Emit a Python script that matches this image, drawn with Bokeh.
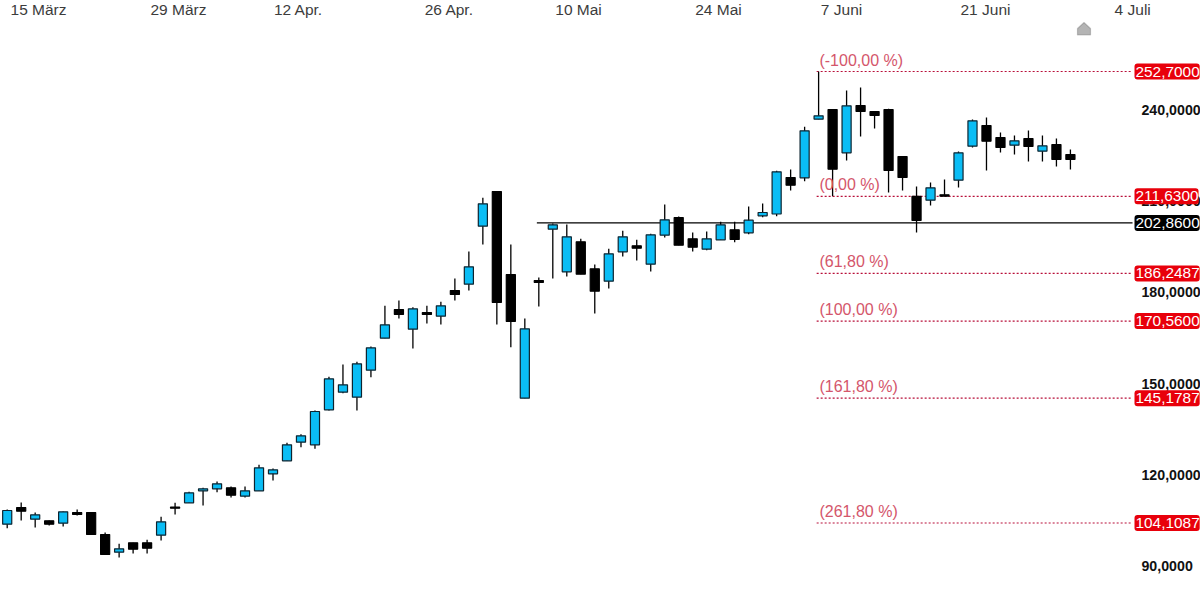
from bokeh.plotting import figure
from bokeh.models import Range1d, FixedTicker, Label, PolyAnnotation, ColumnDataSource
from bokeh.core.properties import value
from bokeh.embed import file_html
from bokeh.resources import INLINE

opens = [103.72,109.21,105.36,104.83,104.05,107.57,107.57,100.33,94.50,97.60,97.60,100.10,109.37,110.76,114.71,115.37,115.70,112.93,114.71,120.31,
         124.58,130.70,129.85,141.37,147.16,145.51,154.40,164.93,174.37,167.89,173.39,172.17,180.63,182.70,201.79,213.21,185.89,145.18,183.92,200.80,
         186.78,196.65,187.77,183.69,193.36,195.34,189.28,198.83,204.65,197.64,194.22,197.32,200.60,199.62,205.21,205.80,217.82,217.72,237.00,240.20,
         225.94,241.51,239.54,240.20,224.73,211.63,210.35,212.12,216.93,228.12,234.93,230.98,228.45,230.65,226.47,228.68,225.39]
highs = [108.55,110.86,107.57,104.93,107.89,108.55,107.57,100.99,97.27,97.60,98.58,106.15,110.76,114.38,115.70,117.77,116.12,116.12,123.27,122.05,
         130.51,133.34,141.14,152.23,156.27,157.16,162.20,175.59,177.34,175.13,175.59,176.91,184.58,193.46,211.14,213.21,195.77,171.41,184.91,202.68,
         202.35,197.64,189.19,194.35,200.28,197.32,199.29,208.93,204.98,199.72,200.05,203.24,203.24,208.27,209.26,220.02,220.45,234.50,252.70,240.20,
         246.45,247.44,239.54,240.43,224.73,214.85,216.17,217.16,226.37,236.90,237.56,232.63,231.64,233.28,231.64,230.65,227.03]
lows = [102.40,104.93,102.63,103.29,102.96,106.58,100.33,93.74,92.76,94.07,94.07,98.35,106.91,110.76,109.87,114.25,112.50,112.50,114.71,118.10,
        124.58,129.06,128.53,141.14,146.83,141.14,152.10,164.93,171.41,161.54,169.77,169.44,177.34,180.63,195.77,169.44,161.97,145.18,175.36,184.58,
        185.23,186.00,173.06,181.29,191.82,190.50,186.88,198.07,195.54,193.46,193.89,197.32,196.52,199.16,204.75,205.08,213.54,216.60,237.00,211.63,
        223.41,231.31,233.94,212.88,213.54,199.72,208.60,211.66,214.53,227.69,220.12,226.04,225.39,223.08,223.08,221.44,220.45]
closes = [108.22,107.99,106.81,103.72,107.79,106.91,100.33,93.74,95.62,95.49,95.82,104.50,108.98,114.05,115.37,117.01,113.26,114.71,122.28,121.62,
          129.85,132.81,140.81,151.57,149.59,156.51,161.77,169.34,172.73,174.61,172.73,175.59,179.31,188.43,209.16,176.68,170.43,168.03,183.26,202.25,
          198.30,186.00,180.40,192.71,198.30,194.55,198.96,203.90,195.54,194.88,197.64,202.25,197.41,203.77,206.30,219.69,215.28,233.19,238.12,220.55,
          241.41,239.54,238.22,220.12,217.82,203.67,214.43,211.66,225.94,236.47,229.76,227.69,229.89,228.02,228.25,223.74,223.74]

x_tick_pos = [2.24, 12.24, 20.82, 31.6, 40.84, 50.84, 59.64, 69.93, 80.45]
x_tick_labels = ["15 März", "29 März", "12 Apr.", "26 Apr.", "10 Mai", "24 Mai", "7 Juni", "21 Juni", "4 Juli"]
y_ticks = [90, 120, 150, 180, 210, 240]
y_tick_labels = ["90,0000", "120,0000", "150,0000", "180,0000", "210,0000", "240,0000"]

fib_start = 57.86
fib_levels = [252.7, 211.63, 186.2487, 170.56, 145.1787, 104.1087]
fib_texts = ["(-100,00 %)", "(0,00 %)", "(61,80 %)", "(100,00 %)", "(161,80 %)", "(261,80 %)"]
fib_prices = ["252,7000", "211,6300", "186,2487", "170,5600", "145,1787", "104,1087"]
support_start = 37.86
support_level = 202.86
support_price = "202,8600"

BLUE = "#0abdf5"
xs = list(range(len(opens)))
up = [c >= o for o, c in zip(opens, closes)]
src = ColumnDataSource(dict(
    x=xs, high=highs, low=lows,
    top=[max(o, c) for o, c in zip(opens, closes)],
    bottom=[min(o, c) for o, c in zip(opens, closes)],
    fill=[BLUE if u else "#000000" for u in up],
    line=["#0d2430" if u else "#000000" for u in up],
))

x_start = -0.479
x_end = 85.298
lines_end = 80.44
y_axis_x = 80.58
x_axis_y = 268.83
p = figure(width=1200, height=592, frame_width=1200, frame_height=592,
           x_range=Range1d(x_start, x_end), y_range=Range1d(81.24, 276.067),
           output_backend="svg", toolbar_location=None,
           x_axis_location="above", y_axis_location="right",
           min_border_left=0, min_border_right=0, min_border_top=0, min_border_bottom=0,
           outline_line_color=None, background_fill_color="white")
p.grid.visible = False

xa = p.xaxis[0]
xa.fixed_location = x_axis_y
xa.ticker = FixedTicker(ticks=x_tick_pos)
xa.major_label_overrides = dict(zip(x_tick_pos, x_tick_labels))
xa.axis_line_color = None
xa.major_tick_line_color = None
xa.minor_tick_line_color = None
xa.major_tick_out = 0
xa.major_tick_in = 0
xa.major_label_standoff = 4
xa.major_label_text_font = "Liberation Sans"
xa.major_label_text_font_size = "15.5px"
xa.major_label_text_color = "#3c3c3c"
xa.major_label_orientation = "horizontal"

ya = p.yaxis[0]
ya.fixed_location = y_axis_x
ya.ticker = FixedTicker(ticks=y_ticks)
ya.major_label_overrides = dict(zip(y_ticks, y_tick_labels))
ya.axis_line_color = None
ya.major_tick_line_color = None
ya.minor_tick_line_color = None
ya.major_tick_out = 0
ya.major_tick_in = 0
ya.major_label_standoff = 7
ya.major_label_text_font = "Liberation Sans"
ya.major_label_text_font_size = "14.2px"
ya.major_label_text_font_style = "bold"
ya.major_label_text_color = "#111111"

# horizontal levels
p.segment(x0=[fib_start] * len(fib_levels), x1=[lines_end] * len(fib_levels), y0=fib_levels, y1=fib_levels,
          line_color="#b8103a", line_width=1.2, line_dash="2 2")
p.segment(x0=[support_start], x1=[lines_end], y0=[support_level], y1=[support_level],
          line_color="#000000", line_width=1.2)

# candles
p.segment(x0="x", x1="x", y0="low", y1="high", source=src, line_color="#000000", line_width=1.3)
p.vbar(x="x", top="top", bottom="bottom", width=0.65, source=src,
       fill_color="fill", line_color="line", line_width=1.2)

p.text(x=[fib_start + 0.2] * len(fib_levels), y=fib_levels, text=fib_texts,
       text_color="#d4566b", text_font=value("Liberation Sans"), text_font_size="16px",
       text_baseline="bottom", text_align="left", y_offset=-3)

for lv, txt, bg in zip(fib_levels + [support_level], fib_prices + [support_price],
                       ["#e8000b"] * len(fib_levels) + ["#000000"]):
    p.add_layout(Label(x=y_axis_x, y=lv, text=txt,
                       text_color="white", text_font="Liberation Sans", text_font_size="15.4px",
                       text_baseline="middle", text_align="left",
                       padding=dict(left=1, right=0, top=3, bottom=3),
                       background_fill_color=bg, border_radius=3))

# home icon in the header
p.add_layout(PolyAnnotation(xs=[1077, 1083.5, 1090, 1090, 1077], ys=[564, 570, 564, 557.5, 557.5],
                            xs_units="screen", ys_units="screen",
                            fill_color="#b4b4b4", fill_alpha=1, line_color="#555555", line_width=1.2))

open("out.html", "w").write(file_html(p, INLINE))
